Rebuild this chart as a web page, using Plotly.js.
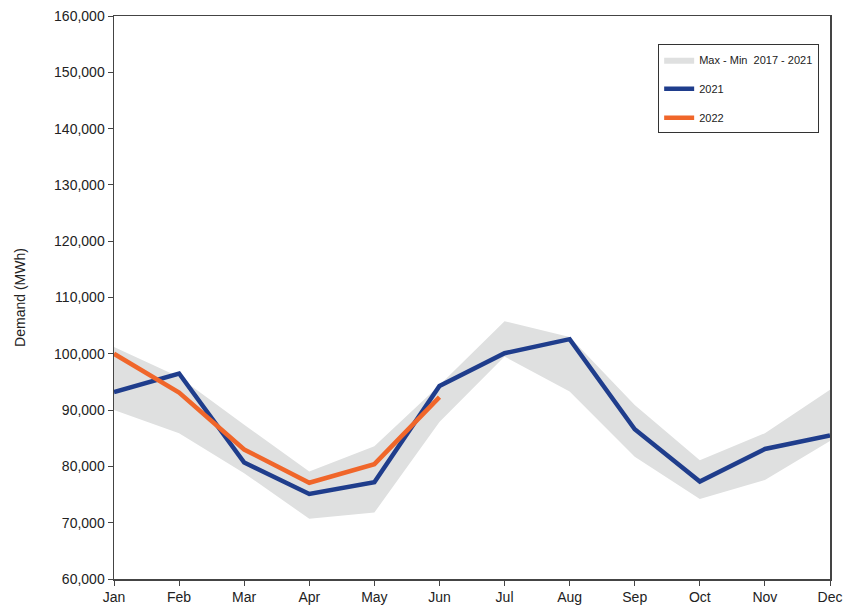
<!DOCTYPE html>
<html>
<head>
<meta charset="utf-8">
<script src="https://cdn.plot.ly/plotly-3.0.1.min.js"></script>
<style>html,body{margin:0;padding:0;background:#fff;}#chart{width:846px;height:610px;}</style>
</head>
<body>
<div id="chart"></div>
<script>
const months = ["Jan","Feb","Mar","Apr","May","Jun","Jul","Aug","Sep","Oct","Nov","Dec"];
const bandMax = [101200, 95900, 87400, 79100, 83600, 94400, 105800, 103000, 90900, 81100, 85900, 93600];
const bandMin = [90000, 85900, 78800, 70700, 71800, 87900, 99500, 93300, 81700, 74200, 77600, 84500];
const demand2021 = [93200, 96500, 80700, 75100, 77200, 94300, 100100, 102600, 86600, 77300, 83100, 85500];
const demand2022 = [100000, 93100, 83000, 77100, 80400, 92300];
const months2022 = months.slice(0, demand2022.length);

const font = "Liberation Sans Narrow, Liberation Sans, Arial, sans-serif";

const traces = [
  {x: months, y: bandMax, type: "scatter", mode: "lines", line: {width: 0, color: "#dfe0e0"},
   showlegend: false, hoverinfo: "skip", legendgroup: "band"},
  {x: months, y: bandMin, type: "scatter", mode: "lines", line: {width: 0, color: "#dfe0e0"},
   fill: "tonexty", fillcolor: "#dfe0e0", name: "Max - Min  2017 - 2021", legendgroup: "band"},
  {x: months, y: demand2021, type: "scatter", mode: "lines", line: {width: 4.5, color: "#1f3d8c"},
   name: "2021", legendgroup: "g2021"},
  {x: months2022, y: demand2022, type: "scatter", mode: "lines", line: {width: 4.5, color: "#f0662a"},
   name: "2022", legendgroup: "g2022"}
];

const layout = {
  width: 846, height: 610,
  margin: {l: 114, r: 16, t: 16, b: 31},
  paper_bgcolor: "#fff", plot_bgcolor: "#fff",
  font: {family: font, size: 14, color: "#222"},
  showlegend: true,
  legend: {
    x: 0.76, y: 0.95, xanchor: "left", yanchor: "top",
    bordercolor: "#333", borderwidth: 1, bgcolor: "#fff",
    font: {family: font, size: 11, color: "#222"},
    traceorder: "grouped", tracegroupgap: 10
  },
  xaxis: {
    type: "category", range: [0, 11], showgrid: false, zeroline: false,
    showline: true, linecolor: "#444", linewidth: 1.5, mirror: true,
    ticks: "outside", ticklen: 5, tickcolor: "#444",
    tickfont: {family: font, size: 14, color: "#222"}
  },
  yaxis: {
    range: [60000, 160000], dtick: 10000, tickformat: ",", showgrid: false, zeroline: false,
    showline: true, linecolor: "#444", linewidth: 1.5, mirror: true,
    ticks: "outside", ticklen: 5, tickcolor: "#444",
    tickfont: {family: font, size: 14, color: "#222"},
    title: {text: "Demand (MWh)", font: {family: font, size: 14, color: "#222"}, standoff: 25}
  }
};

Plotly.newPlot("chart", traces, layout, {displayModeBar: false, staticPlot: true});
</script>
</body>
</html>
